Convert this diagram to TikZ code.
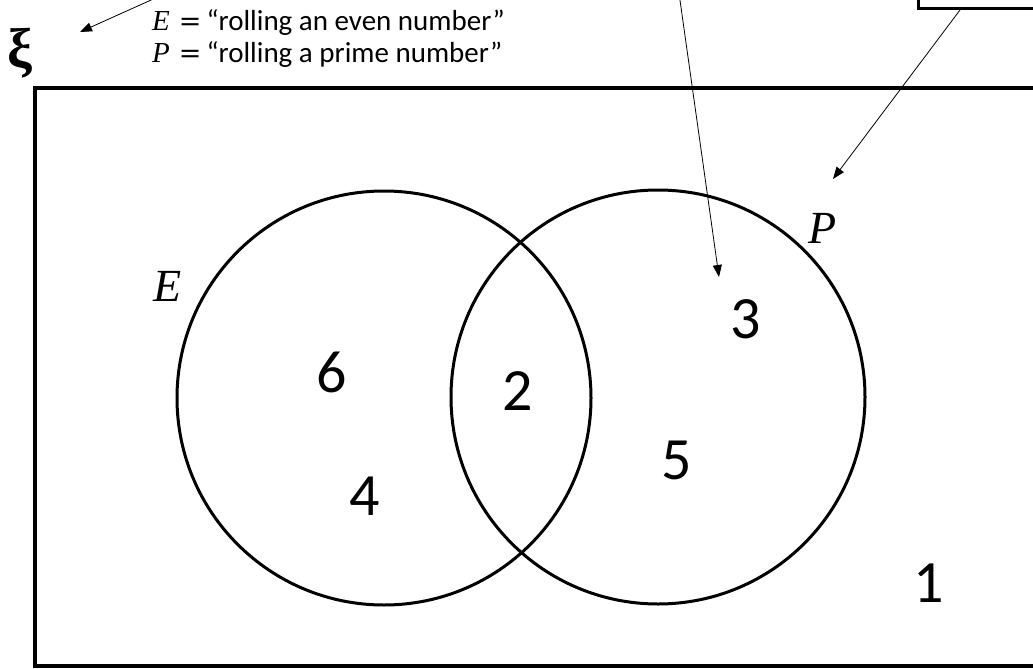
\documentclass[tikz,border=0pt]{standalone}
\usepackage{fontspec}
\setmainfont{Carlito}
\newfontfamily\serifit{Liberation Serif}
\newfontfamily\eqfont{DejaVu Serif}
\usetikzlibrary{arrows.meta}
\tikzset{
  frame/.style={line width=3.4pt},
  setc/.style={draw, circle, line width=3pt, inner sep=0pt},
  pointer/.style={line width=0.8pt, -{Triangle[length=12pt,width=9pt]}},
  elem/.style={inner sep=0pt, font=\fontsize{60}{60}\selectfont},
  setlab/.style={inner sep=0pt, font=\fontsize{46}{46}\selectfont\serifit\itshape},
  defline/.style={inner sep=0pt, anchor=base west, font=\fontsize{29}{34}\selectfont},
}
\newcommand{\vname}[1]{{\serifit\itshape #1}}
\newcommand{\eqsign}{{\eqfont\fontsize{27}{34}\selectfont =}}
\begin{document}
\begin{tikzpicture}[x=1pt,y=-1pt]
\useasboundingbox (0,0) rectangle (1033,669);
\clip (0,0) rectangle (1033,669);
% universal set frame
\draw[frame] (35,88) rectangle (1060,666);
% partial box at top right
\node[draw, frame, minimum width=150pt, minimum height=40pt, anchor=south west, inner sep=0pt] (box) at (917,10) {};
% xi
\node[inner sep=0pt, font=\fontsize{56}{56}\selectfont\serifit\bfseries] (xi) at (20,53) {ξ};
% definitions
\node[defline] (defE) at (152,31) {\vname{E}\hspace{9pt}\eqsign\hspace{5pt}“rolling an even number”};
\node[defline] (defP) at (152,63) {\vname{P}\hspace{9pt}\eqsign\hspace{5pt}“rolling a prime number”};
% circles
\node[setc, minimum size=414pt] (Ec) at (384,398) {};
\node[setc, minimum size=414pt] (Pc) at (658,397) {};
% set labels
\node[setlab] (El) at (168,286) {E};
\node[setlab] (Pl) at (823,228) {P};
% elements
\node[elem] (n6) at (332,372) {6};
\node[elem] (n2) at (518,391) {2};
\node[elem] (n4) at (365,496) {4};
\node[elem] (n3) at (746,319) {3};
\node[elem] (n5) at (677,460) {5};
\node[elem] (n1) at (929,583) {1};
% pointer arrows
\coordinate (a1s) at (160,-4);
\coordinate (a1e) at (80,32);
\coordinate (a2s) at (679.4,-4);
\coordinate (a2e) at (719,277);
\coordinate (a3s) at (960,10);
\coordinate (a3e) at (833,179);
\draw[pointer] (a1s) -- (a1e);
\draw[pointer] (a2s) -- (a2e);
\draw[pointer] (a3s) -- (a3e);
\end{tikzpicture}
\end{document}
